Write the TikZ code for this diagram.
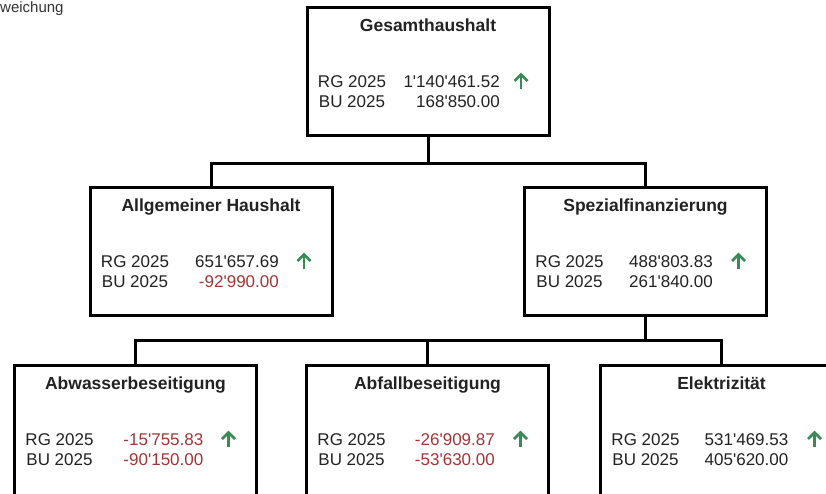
\documentclass[tikz,border=0pt]{standalone}
\usepackage{fontspec}
\setmainfont{Liberation Sans}[Ligatures=TeXOff]
\definecolor{txt}{HTML}{222222}
\definecolor{neg}{HTML}{A33535}
\definecolor{pos}{HTML}{3A8A55}
\definecolor{weich}{HTML}{333333}
\def\boxh{128}
\tikzset{
  boxst/.style={draw=black, line width=3pt, minimum width=242pt, minimum height=\boxh pt, inner sep=0pt, fill=white},
  titlest/.style={anchor=base, inner sep=0pt, text=txt, font=\fontsize{17.5}{20}\selectfont\bfseries},
  labst/.style={anchor=base, inner sep=0pt, text=txt, font=\fontsize{17}{20}\selectfont},
  valst/.style={anchor=base east, inner sep=0pt, font=\fontsize{17}{20}\selectfont},
  conn/.style={draw=black, line width=3pt},
  arrst/.style={draw=pos, line width=2.6pt, miter limit=10},
}
% #1 name, #2 centre x, #3 top y, #4 title, #5 RG value, #6 colour, #7 BU value, #8 colour, #9 value right offset
\newcommand\finnode[9]{%
  \node[boxst] (#1) at (#2,{#3+\boxh/2}) {};
  \node[titlest] (#1-t) at (#2,{#3+24}) {#4};
  \node[labst] (#1-rgl) at ({#2-76},{#3+80}) {RG 2025};
  \node[labst] (#1-bul) at ({#2-76},{#3+100}) {BU 2025};
  \node[valst,text=#6] (#1-rgv) at ({#2-121+#9},{#3+80}) {#5};
  \node[valst,text=#8] (#1-buv) at ({#2-121+#9},{#3+100}) {#7};
  \draw[arrst] ({#2+93},{#3+82}) -- ({#2+93},{#3+68});
  \draw[arrst] ({#2+86.5},{#3+74}) -- ({#2+93},{#3+67.5}) -- ({#2+99.5},{#3+74});
}
\begin{document}
\begin{tikzpicture}[x=1pt,y=-1pt]
\fill[white] (0,0) rectangle (826,493);
\useasboundingbox (0,0) rectangle (826,493);
\clip (0,0) rectangle (826,493);

\node[anchor=base west, inner sep=0pt, text=weich, font=\fontsize{15}{17}\selectfont] (lbl) at (0,12) {weichung};

\finnode{ges}{428}{7}{Gesamthaushalt}{1'140'461.52}{txt}{168'850.00}{txt}{193}
\finnode{allg}{211}{187}{Allgemeiner Haushalt}{651'657.69}{txt}{-92'990.00}{neg}{189}
\finnode{spez}{645.5}{187}{Spezialfinanzierung}{488'803.83}{txt}{261'840.00}{txt}{188.5}
\def\boxh{140}
\finnode{abw}{135.5}{365}{Abwasserbeseitigung}{-15'755.83}{neg}{-90'150.00}{neg}{189}
\finnode{abf}{427.5}{365}{Abfallbeseitigung}{-26'909.87}{neg}{-53'630.00}{neg}{188.5}
\finnode{elek}{721.5}{365}{Elektrizität}{531'469.53}{txt}{405'620.00}{txt}{188}

\draw[conn] (ges.south) -- ++(0,27) coordinate (j1) -| (allg.north);
\draw[conn] (j1) -| (spez.north);
\draw[conn] (spez.south) -- ++(0,24) coordinate (j2) -| (abw.north);
\draw[conn] (j2) -| (abf.north);
\draw[conn] (j2) -| (elek.north);
\end{tikzpicture}
\end{document}
